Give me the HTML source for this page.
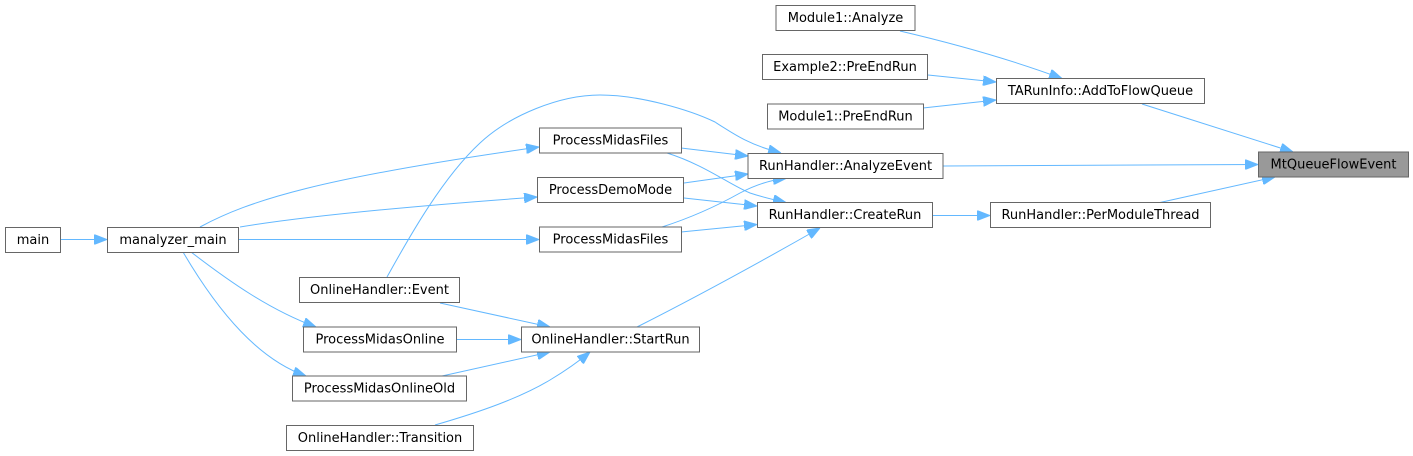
<!DOCTYPE html>
<html><head><meta charset="utf-8"><style>
html,body{margin:0;padding:0;background:#fff;}
svg{display:block;}
text{font-family:"DejaVu Sans","Liberation Sans",sans-serif;font-size:13px;fill:#000;text-anchor:middle;}
.n{fill:#fff;stroke:#666;stroke-width:1;}
.e{fill:none;stroke:#63b8ff;stroke-width:1;marker-end:url(#a);}
</style></head><body>
<svg width="1413" height="456" viewBox="0 0 1413 456" xmlns="http://www.w3.org/2000/svg">
<defs>
<marker id="a" markerUnits="userSpaceOnUse" viewBox="0 0 13 10" refX="13" refY="5" markerWidth="13" markerHeight="10" orient="auto">
<path d="M0,0 L13,5 L0,10 z" fill="#63b8ff" stroke="#63b8ff" stroke-width="1"/>
</marker>
</defs>
<!-- edges -->
<path class="e" d="M60,239.5 L107,239.5"/>
<path class="e" d="M200,227 C250,200 320,178 539,147"/>
<path class="e" d="M240,227 Q330,212 537,197"/>
<path class="e" d="M239,239.5 L539,239.5"/>
<path class="e" d="M191,252 C230,282 270,310 316,327"/>
<path class="e" d="M183,252 C220,315 260,360 306,376"/>
<path class="e" d="M387,277 C405,245 440,180 480,143 C510,115 560,95 600,95 C640,95 690,110 715,122 C735,135 750,145 781,153"/>
<path class="e" d="M681,148 L748,156"/>
<path class="e" d="M667,153 C705,165 730,185 750,193 C765,198 775,200 786,202.5"/>
<path class="e" d="M684,183 L748,174"/>
<path class="e" d="M684,198 L757,206"/>
<path class="e" d="M681,232 L757,224.5"/>
<path class="e" d="M662,227 C690,218 715,207 740,193 C755,185 770,180 786,178.5"/>
<path class="e" d="M637,327 Q720,285 820,228"/>
<path class="e" d="M440,303 L550,327"/>
<path class="e" d="M457,339.5 L521,339.5"/>
<path class="e" d="M442,376 L550,352"/>
<path class="e" d="M435,425 C480,412 520,398 550,380 C565,371 578,362 590,352"/>
<path class="e" d="M943,166 L1258,164.5"/>
<path class="e" d="M933,215.5 L990,215.5"/>
<path class="e" d="M1160,202.5 L1275,177"/>
<path class="e" d="M1142,104 L1293,152"/>
<path class="e" d="M900,31 Q990,52 1062,78.5"/>
<path class="e" d="M928,75 L996,82"/>
<path class="e" d="M923,108 L996,100"/>
<!-- nodes -->
<rect class="n" x="5.5" y="227.5" width="55" height="25"/><text x="33" y="244">main</text>
<rect class="n" x="107.5" y="227.5" width="131" height="25"/><text x="173" y="244">manalyzer_main</text>
<rect class="n" x="299.5" y="277.5" width="160" height="25"/><text x="379.5" y="294">OnlineHandler::Event</text>
<rect class="n" x="303.5" y="327" width="153" height="25"/><text x="380" y="343.5">ProcessMidasOnline</text>
<rect class="n" x="292.5" y="376" width="174" height="25"/><text x="379.5" y="392.5">ProcessMidasOnlineOld</text>
<rect class="n" x="286.5" y="425.5" width="187" height="25"/><text x="380" y="442">OnlineHandler::Transition</text>
<rect class="n" x="539.5" y="128" width="142" height="25"/><text x="610.5" y="144.5">ProcessMidasFiles</text>
<rect class="n" x="537.5" y="177.5" width="146" height="25"/><text x="610.5" y="194">ProcessDemoMode</text>
<rect class="n" x="539.5" y="227" width="142" height="25"/><text x="610.5" y="243.5">ProcessMidasFiles</text>
<rect class="n" x="521.5" y="327" width="178" height="25"/><text x="610.5" y="343.5">OnlineHandler::StartRun</text>
<rect class="n" x="776" y="5.5" width="139" height="25"/><text x="845.5" y="22">Module1::Analyze</text>
<rect class="n" x="762.5" y="54.5" width="165" height="25"/><text x="845" y="71">Example2::PreEndRun</text>
<rect class="n" x="767.5" y="104" width="156" height="25"/><text x="845.5" y="120.5">Module1::PreEndRun</text>
<rect class="n" x="748" y="153.5" width="195" height="25"/><text x="845.5" y="170">RunHandler::AnalyzeEvent</text>
<rect class="n" x="757.5" y="202.5" width="175" height="25"/><text x="845" y="219">RunHandler::CreateRun</text>
<rect class="n" x="996.5" y="78.5" width="208" height="25"/><text x="1100.5" y="95">TARunInfo::AddToFlowQueue</text>
<rect class="n" x="990.5" y="202.5" width="220" height="25"/><text x="1100.5" y="219">RunHandler::PerModuleThread</text>
<rect x="1258.5" y="152" width="150" height="25" fill="#999" stroke="#666" stroke-width="1"/><text x="1333.5" y="168.5">MtQueueFlowEvent</text>
</svg>
</body></html>
